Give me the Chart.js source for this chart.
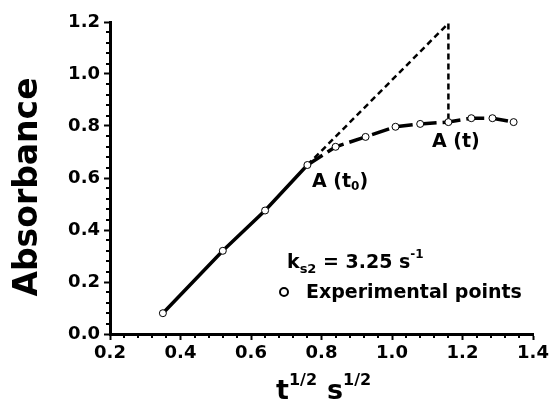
<!DOCTYPE html>
<html>
<head>
<meta charset="utf-8">
<script src="https://cdn.jsdelivr.net/npm/chart.js@4"></script>
<style>
  body{margin:0;background:#fff;}
  #chart{display:block;}
</style>
</head>
<body>
<canvas id="chart" width="552" height="400"></canvas>
<script>
// sqrt(t) values and absorbance
const sqrtT=[0.35,0.52,0.64,0.76,0.84,0.925,1.01,1.08,1.16,1.225,1.285,1.345];
const absorb=[0.08,0.32,0.475,0.65,0.72,0.758,0.797,0.808,0.815,0.83,0.83,0.815];
// tangent construction A(t0) -> extrapolated -> A(t)
const tangentX=[0.76,1.16,1.16];
const tangentY=[0.65,1.195,0.815];
const xTicks=[0.2,0.4,0.6,0.8,1.0,1.2,1.4];
const yTicks=[0.0,0.2,0.4,0.6,0.8,1.0,1.2];
const kText='3.25';

const FONT='"DejaVu Sans", Arial, sans-serif';
const pts=(xs,ys)=>xs.map((x,i)=>({x:x,y:ys[i]}));

const decorations={
  id:'decorations',
  afterDraw(chart){
    const ctx=chart.ctx;
    const xs=chart.scales.x, ys=chart.scales.y;
    const area=chart.chartArea;
    ctx.save();
    ctx.strokeStyle='#000';
    ctx.fillStyle='#000';
    ctx.lineWidth=2;
    // minor ticks
    for(let v=0.24;v<1.4;v+=0.04){
      if(Math.abs(v*5-Math.round(v*5))<0.01) continue;
      const px=Math.round(xs.getPixelForValue(v));
      ctx.beginPath();ctx.moveTo(px,area.bottom);ctx.lineTo(px,area.bottom+4);ctx.stroke();
    }
    for(let v=0.04;v<1.2;v+=0.04){
      if(Math.abs(v*5-Math.round(v*5))<0.01) continue;
      const py=Math.round(ys.getPixelForValue(v));
      ctx.beginPath();ctx.moveTo(area.left,py);ctx.lineTo(area.left-4,py);ctx.stroke();
    }
    // y title
    ctx.save();
    ctx.translate(37,187);
    ctx.rotate(-Math.PI/2);
    ctx.font='bold 33px '+FONT;
    ctx.textAlign='center';
    ctx.textBaseline='alphabetic';
    ctx.fillText('Absorbance',0,0);
    ctx.restore();
    // x title  t^1/2 s^1/2
    ctx.textAlign='left';
    ctx.textBaseline='alphabetic';
    let x=276;
    const drawPart=(txt,size,base)=>{
      ctx.font='bold '+size+'px '+FONT;
      ctx.fillText(txt,x,base);
      x+=ctx.measureText(txt).width;
    };
    drawPart('t',27,399);
    drawPart('1/2',16,385);
    x+=10;
    drawPart('s',27,399);
    drawPart('1/2',16,385);
    // A(t0) and A(t)
    x=312;
    drawPart('A (t',19,187);
    drawPart('0',12,190);
    drawPart(')',19,187);
    x=432;
    drawPart('A (t)',19,147);
    // rate constant
    x=287;
    drawPart('k',19,268);
    drawPart('s2',13,273);
    drawPart(' = '+kText+' s',19,268);
    drawPart('-1',12,258);
    // legend
    ctx.lineWidth=2;
    ctx.beginPath();ctx.arc(284,292,4,0,Math.PI*2);ctx.stroke();
    x=306;
    drawPart('Experimental points',19,298);
    ctx.restore();
  }
};

new Chart(document.getElementById('chart'),{
  type:'scatter',
  data:{
    datasets:[
      {
        label:'Experimental points',
        data:pts(sqrtT,absorb),
        showLine:false,
        pointRadius:3.5,
        pointBackgroundColor:'#fff',
        pointBorderColor:'#000',
        pointBorderWidth:1,
        order:0
      },
      {
        label:'fit',
        data:pts(sqrtT,absorb),
        showLine:true,
        borderColor:'#000',
        borderWidth:3.5,
        pointRadius:0,
        tension:0,
        segment:{
          borderDash:c=>c.p0.parsed.x>=0.75?[18,6]:undefined
        },
        order:2
      },
      {
        label:'tangent',
        data:pts(tangentX,tangentY),
        showLine:true,
        borderColor:'#000',
        borderWidth:2.5,
        borderDash:[6,4],
        pointRadius:0,
        tension:0,
        order:1
      }
    ]
  },
  options:{
    responsive:false,
    animation:false,
    layout:{padding:{left:0,right:19,top:22,bottom:0}},
    plugins:{legend:{display:false},tooltip:{enabled:false}},
    scales:{
      x:{
        type:'linear',
        min:0.2,max:1.4,
        afterBuildTicks:s=>{s.ticks=xTicks.map(v=>({value:v}));},
        afterFit:s=>{s.height=66;},
        grid:{drawOnChartArea:false,drawTicks:true,tickLength:6,tickWidth:2,tickColor:'#000'},
        border:{display:true,color:'#000',width:3},
        ticks:{color:'#000',padding:3,font:{family:FONT,size:18,weight:'bold'},callback:v=>v.toFixed(1)}
      },
      y:{
        type:'linear',
        min:0,max:1.2,
        afterBuildTicks:s=>{s.ticks=yTicks.map(v=>({value:v}));},
        afterFit:s=>{s.width=110;},
        grid:{drawOnChartArea:false,drawTicks:true,tickLength:6,tickWidth:2,tickColor:'#000'},
        border:{display:true,color:'#000',width:3},
        ticks:{color:'#000',padding:4,font:{family:FONT,size:18,weight:'bold'},callback:v=>v.toFixed(1)}
      }
    }
  },
  plugins:[decorations]
});
</script>
</body>
</html>
